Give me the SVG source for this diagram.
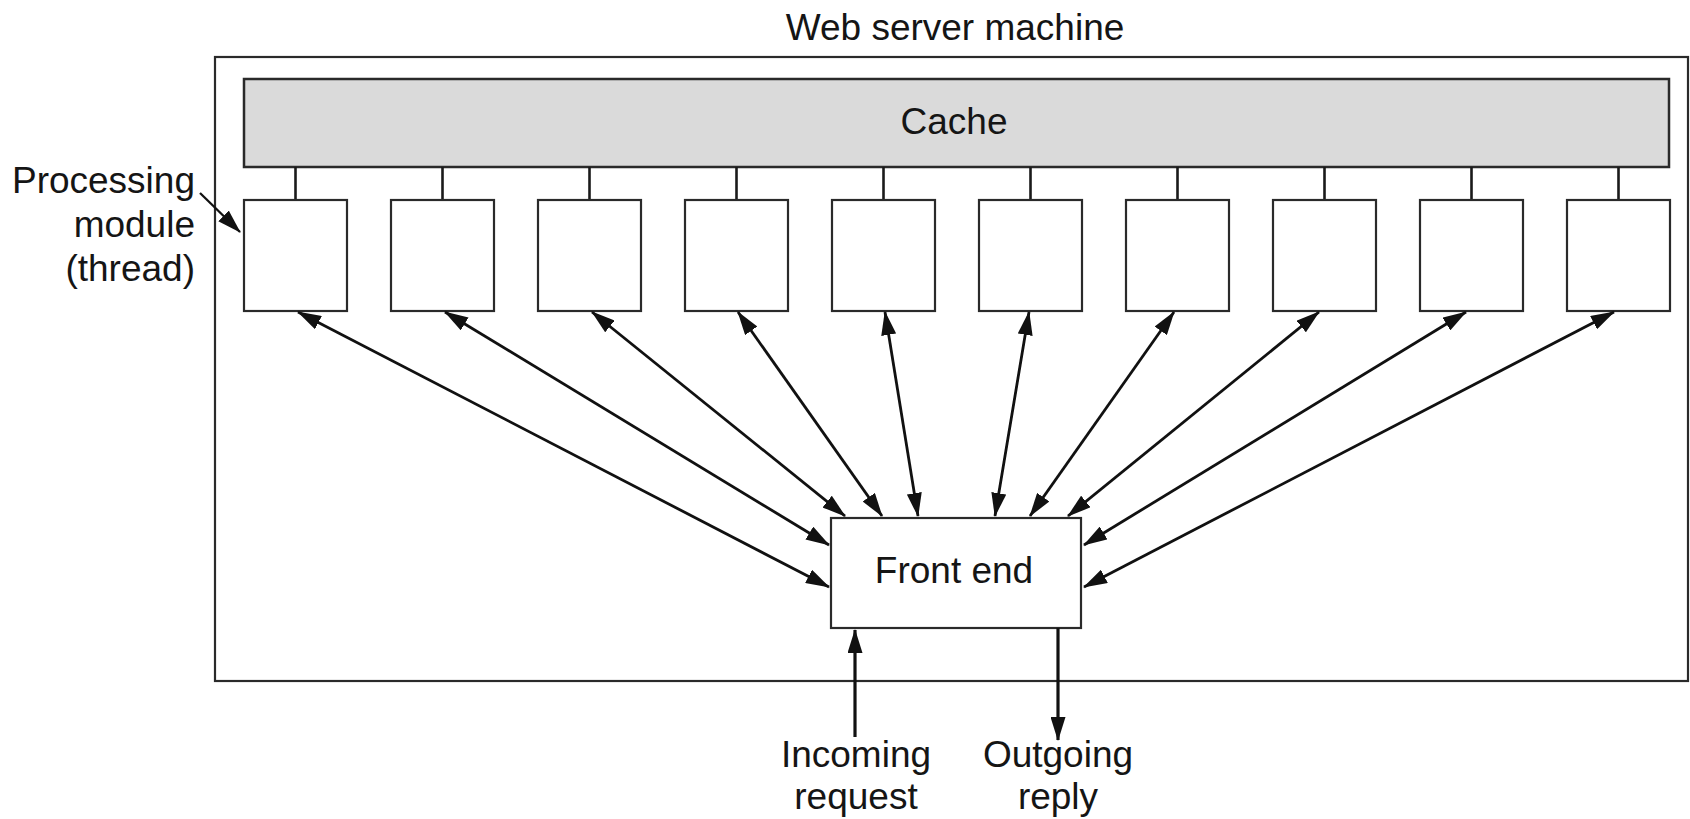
<svg xmlns="http://www.w3.org/2000/svg" width="1690" height="819" viewBox="0 0 1690 819">
<style>
text { font-family: "Liberation Sans", Arial, sans-serif; font-size: 37px; fill: #151515; }
.box { fill: #ffffff; stroke: #2a2a2a; stroke-width: 2.2; }
.cache { fill: #dadada; stroke: #2a2a2a; stroke-width: 2.5; }
.link { stroke: #1a1a1a; stroke-width: 2.6; fill: none; }
.arr { stroke: #111; stroke-width: 2.8; fill: none; marker-end: url(#ah); marker-start: url(#ah); }
.io { stroke: #111; stroke-width: 3.2; fill: none; marker-end: url(#ah); }
</style>
<defs>
<marker id="ah" viewBox="0 0 24 15" refX="23" refY="7.5" markerWidth="24" markerHeight="15" markerUnits="userSpaceOnUse" orient="auto-start-reverse">
<path d="M0,0 L24,7.5 L0,15 z" fill="#111"/>
</marker>
</defs>
<rect width="1690" height="819" fill="#ffffff"/>
<g id="machine">
<rect x="215" y="57" width="1473" height="624" fill="none" stroke="#2a2a2a" stroke-width="2.2"/>
<text x="955" y="40" text-anchor="middle">Web server machine</text>
</g>
<g id="cache">
<rect class="cache" x="244" y="79" width="1425" height="88"/>
<text x="954" y="134" text-anchor="middle">Cache</text>
</g>
<g id="cache-links">
<line class="link" x1="295.5" y1="167" x2="295.5" y2="200"/>
<line class="link" x1="442.5" y1="167" x2="442.5" y2="200"/>
<line class="link" x1="589.5" y1="167" x2="589.5" y2="200"/>
<line class="link" x1="736.5" y1="167" x2="736.5" y2="200"/>
<line class="link" x1="883.5" y1="167" x2="883.5" y2="200"/>
<line class="link" x1="1030.5" y1="167" x2="1030.5" y2="200"/>
<line class="link" x1="1177.5" y1="167" x2="1177.5" y2="200"/>
<line class="link" x1="1324.5" y1="167" x2="1324.5" y2="200"/>
<line class="link" x1="1471.5" y1="167" x2="1471.5" y2="200"/>
<line class="link" x1="1618.5" y1="167" x2="1618.5" y2="200"/>
</g>
<g id="module1"><rect class="box" x="244" y="200" width="103" height="111"/></g>
<g id="module2"><rect class="box" x="391" y="200" width="103" height="111"/></g>
<g id="module3"><rect class="box" x="538" y="200" width="103" height="111"/></g>
<g id="module4"><rect class="box" x="685" y="200" width="103" height="111"/></g>
<g id="module5"><rect class="box" x="832" y="200" width="103" height="111"/></g>
<g id="module6"><rect class="box" x="979" y="200" width="103" height="111"/></g>
<g id="module7"><rect class="box" x="1126" y="200" width="103" height="111"/></g>
<g id="module8"><rect class="box" x="1273" y="200" width="103" height="111"/></g>
<g id="module9"><rect class="box" x="1420" y="200" width="103" height="111"/></g>
<g id="module10"><rect class="box" x="1567" y="200" width="103" height="111"/></g>
<g id="processing-label">
<text x="195" y="193" text-anchor="end">Processing</text>
<text x="195" y="237" text-anchor="end">module</text>
<text x="195" y="281" text-anchor="end">(thread)</text>
</g>
<g id="frontend">
<rect class="box" x="831" y="518" width="250" height="110"/>
<text x="954" y="583" text-anchor="middle">Front end</text>
</g>
<g id="io-labels">
<text x="856" y="767" text-anchor="middle">Incoming</text>
<text x="856" y="809" text-anchor="middle">request</text>
<text x="1058" y="767" text-anchor="middle">Outgoing</text>
<text x="1058" y="809" text-anchor="middle">reply</text>
</g>
<g id="connectors">
<line class="io" x1="200" y1="193" x2="240" y2="232" style="stroke-width:2.3"/>
<line class="arr" x1="298" y1="312" x2="829" y2="587"/>
<line class="arr" x1="445" y1="312" x2="829" y2="545"/>
<line class="arr" x1="592" y1="312" x2="845" y2="516"/>
<line class="arr" x1="738" y1="312" x2="882" y2="516"/>
<line class="arr" x1="885" y1="312" x2="918" y2="516"/>
<line class="arr" x1="1029" y1="312" x2="995" y2="516"/>
<line class="arr" x1="1174" y1="312" x2="1030" y2="516"/>
<line class="arr" x1="1319" y1="312" x2="1068" y2="516"/>
<line class="arr" x1="1466" y1="312" x2="1084" y2="545"/>
<line class="arr" x1="1614" y1="312" x2="1084" y2="587"/>
<line class="io" x1="855" y1="737" x2="855" y2="630"/>
<line class="io" x1="1058" y1="628" x2="1058" y2="740"/>
</g>
</svg>
